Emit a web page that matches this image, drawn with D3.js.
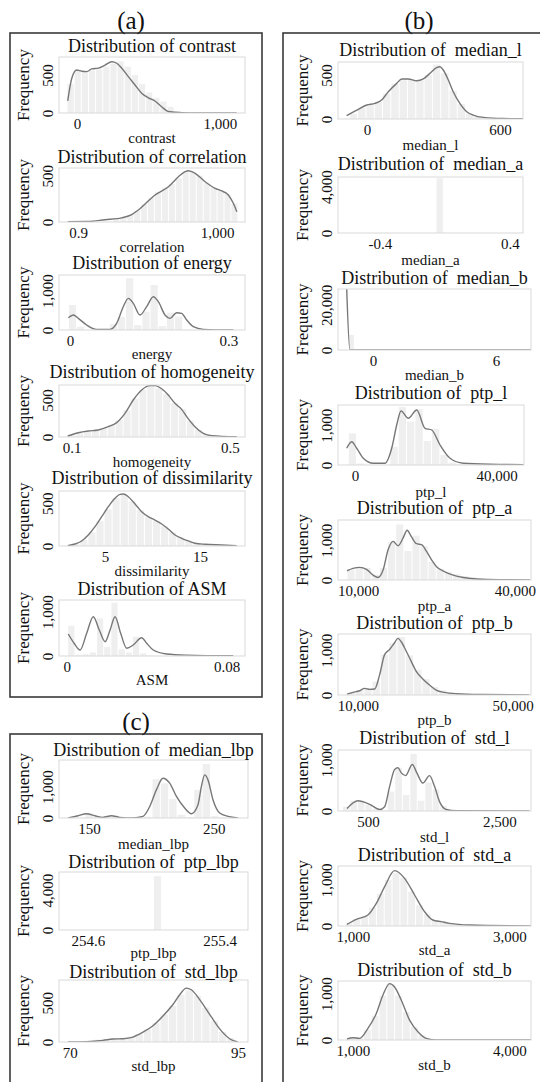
<!DOCTYPE html>
<meta charset="utf-8">
<title>Feature distributions</title>
<style>
  body { margin: 0; background: #fff; }
  svg text { font-family: "Liberation Serif", "Times New Roman", "DejaVu Serif", serif !important; fill: #111; }
</style>
<body>
<div id="chart"></div>
<script src="https://d3js.org/d3.v7.min.js"></script>
<script>

// ---- data ----
// each panel: axis ranges, ticks, histogram bins (start, width, counts) and the density curve

var contrast = {
  title: "Distribution of contrast", xlabel: "contrast",
  xDomain: [-126, 1175], yMax: 737,
  xTicks: [0, 1000], xTickLabels: ["0", "1,000"], yTicks: [0, 500],
  binStart: -70, binWidth: 50,
  counts: [380, 560, 540, 560, 575, 610, 650, 680, 610, 500, 380, 270, 200, 150, 80, 25, 10, 6, 4, 3, 2, 2, 1, 1],
  curve: [[-65,160],[-37,455],[-2,565],[33,550],[68,545],[103,580],[149,590],[196,630],[243,675],[278,655],[313,590],[359,478],[406,368],[452,260],[499,200],[545,158],[592,83],[638,20],[732,5],[850,2],[1000,1],[1117,0]]
};

var correlation = {
  title: "Distribution of correlation", xlabel: "correlation",
  xDomain: [0.8863, 1.0201], yMax: 583,
  xTicks: [0.9, 1.0], xTickLabels: ["0.9", "1,000"], yTicks: [0, 500],
  binStart: 0.925, binWidth: 0.005,
  counts: [40, 55, 75, 120, 190, 260, 320, 370, 410, 470, 540, 540, 500, 420, 370, 340, 300, 200],
  curve: [[0.8926,3],[0.9074,5],[0.9194,25],[0.9314,45],[0.9386,80],[0.9434,130],[0.9554,292],[0.965,381],[0.9722,489],[0.977,543],[0.9793,554],[0.9842,526],[0.9914,435],[0.9986,364],[1.0034,335],[1.0081,292],[1.0117,202],[1.0142,111]]
};

var energy = {
  title: "Distribution of energy", xlabel: "energy",
  xDomain: [-0.0208, 0.3316], yMax: 1400,
  xTicks: [0, 0.3], xTickLabels: ["0", "0.3"], yTicks: [0, 1000],
  binStart: -0.003, binWidth: 0.01547,
  counts: [636, 85, 0, 0, 0, 150, 330, 1315, 127, 466, 1145, 100, 440, 340, 10],
  curve: [[-0.003,313],[0.0063,382],[0.0158,297],[0.0316,127],[0.0505,17],[0.0758,17],[0.0884,170],[0.101,593],[0.1105,806],[0.12,679],[0.1326,382],[0.1453,593],[0.1579,848],[0.1674,721],[0.18,382],[0.1895,297],[0.2021,441],[0.2116,424],[0.2211,254],[0.2337,85],[0.2526,17],[0.3095,0]]
};

var homogeneity = {
  title: "Distribution of homogeneity", xlabel: "homogeneity",
  xDomain: [0.068, 0.538], yMax: 703,
  xTicks: [0.1, 0.5], xTickLabels: ["0.1", "0.5"], yTicks: [0, 500],
  binStart: 0.09, binWidth: 0.02,
  counts: [30, 60, 80, 90, 120, 160, 230, 360, 520, 640, 690, 660, 580, 460, 380, 220, 100, 40, 15, 5],
  curve: [[0.0899,14],[0.1167,58],[0.1419,81],[0.1672,95],[0.1925,139],[0.2137,194],[0.2347,320],[0.2556,500],[0.2769,635],[0.2978,694],[0.3105,694],[0.3274,653],[0.3441,568],[0.361,455],[0.3779,374],[0.3906,275],[0.4115,139],[0.4325,50],[0.4537,18],[0.5169,3]]
};

var dissimilarity = {
  title: "Distribution of dissimilarity", xlabel: "dissimilarity",
  xDomain: [0.158, 19.74], yMax: 644,
  xTicks: [5, 15], xTickLabels: ["5", "15"], yTicks: [0, 500],
  binStart: 1.5, binWidth: 0.85,
  counts: [25, 70, 160, 290, 430, 560, 600, 520, 420, 340, 290, 230, 160, 100, 60, 35, 20, 12, 6],
  curve: [[1.07,4],[1.84,23],[2.55,59],[3.24,129],[3.95,226],[4.65,343],[5.35,460],[6.05,558],[6.58,605],[6.93,609],[7.45,577],[8.16,492],[8.86,402],[9.56,343],[10.26,304],[10.97,258],[11.66,199],[12.37,129],[13.07,90],[13.77,59],[14.47,32],[15.53,20],[17.28,12],[18.86,4]]
};

var asm = {
  title: "Distribution of ASM", xlabel: "ASM",
  xDomain: [-0.00385, 0.0892], yMax: 1264,
  xTicks: [0, 0.08], xTickLabels: ["0", "0.08"], yTicks: [0, 1000],
  binStart: 0.0005, binWidth: 0.0036,
  counts: [683, 30, 40, 80, 850, 200, 1204, 150, 80, 436, 60, 15, 5],
  curve: [[0.0008,497],[0.0037,287],[0.0067,135],[0.01,512],[0.0133,887],[0.0163,587],[0.0192,323],[0.0217,587],[0.0242,887],[0.027,512],[0.03,174],[0.0333,248],[0.0375,413],[0.04,287],[0.0433,135],[0.05,45],[0.06,20],[0.0833,5]]
};

var medianL = {
  title: "Distribution of  median_l", xlabel: "median_l",
  xDomain: [-131, 704], yMax: 648,
  xTicks: [0, 600], xTickLabels: ["0", "600"], yTicks: [0, 500],
  binStart: -80, binWidth: 37.5,
  counts: [60, 130, 165, 190, 290, 400, 440, 450, 440, 500, 620, 520, 320, 170, 60, 25, 10, 5],
  curve: [[-92,38],[-46,102],[-1,159],[36,178],[66,216],[96,310],[134,405],[157,455],[186,455],[224,435],[254,455],[284,519],[314,583],[329,594],[344,557],[367,443],[389,310],[419,178],[450,83],[479,45],[525,18],[615,5],[705,3]]
};

var medianA = {
  title: "Distribution of  median_a", xlabel: "median_a",
  xDomain: [-0.658, 0.48], yMax: 4836,
  xTicks: [-0.4, 0.4], xTickLabels: ["-0.4", "0.4"], yTicks: [0, 4000],
  binStart: -0.055, binWidth: 0.045,
  counts: [4720],
  curve: []
};

var medianB = {
  title: "Distribution of  median_b", xlabel: "median_b",
  xDomain: [-1.70, 7.70], yMax: 27000,
  xTicks: [0, 6], xTickLabels: ["0", "6"], yTicks: [0, 20000],
  binStart: -1.19, binWidth: 0.29,
  counts: [6667],
  curve: [[-1.28,28000],[-1.12,0],[7.7,0]]
};

var ptpL = {
  title: "Distribution of  ptp_l", xlabel: "ptp_l",
  xDomain: [-4800, 47700], yMax: 1500,
  xTicks: [0, 40000], xTickLabels: ["0", "40,000"], yTicks: [0, 1000],
  binStart: -1900, binWidth: 2350,
  counts: [792, 40, 0, 0, 0, 458, 1450, 1083, 1392, 600, 900, 250, 60, 20, 10, 5],
  curve: [[-2343,418],[-932,583],[480,418],[2343,168],[5167,43],[8470,43],[10361,418],[11773,1000],[12987,1350],[15048,1168],[17420,1375],[19763,918],[21654,875],[23998,500],[26821,168],[30576,43],[38114,18],[47516,10]]
};

var ptpA = {
  title: "Distribution of  ptp_a", xlabel: "ptp_a",
  xDomain: [6170, 43064], yMax: 1500,
  xTicks: [10000, 40000], xTickLabels: ["10,000", "40,000"], yTicks: [0, 1000],
  binStart: 7900, binWidth: 1550,
  counts: [250, 320, 300, 130, 300, 950, 1389, 725, 1108, 850, 450, 280, 200, 150, 100, 70, 50, 30, 20, 15, 10, 8, 5, 3],
  curve: [[7894,231],[9043,290],[10326,316],[11609,265],[12872,121],[13830,62],[14787,248],[15745,755],[16702,966],[17660,856],[18617,1051],[19383,1245],[20226,1076],[21183,907],[22141,882],[23098,713],[24056,502],[25013,332],[26603,206],[28192,121],[30107,62],[33304,20],[37767,8],[42880,3]]
};

var ptpB = {
  title: "Distribution of  ptp_b", xlabel: "ptp_b",
  xDomain: [4839, 54748], yMax: 1356,
  xTicks: [10000, 50000], xTickLabels: ["10,000", "50,000"], yTicks: [0, 1000],
  binStart: 7200, binWidth: 2150,
  counts: [60, 110, 150, 300, 900, 1150, 1290, 880, 560, 350, 180, 100, 60, 30, 15, 10, 5, 3],
  curve: [[7161,20],[8710,57],[10439,94],[11729,147],[13019,124],[14310,132],[15600,447],[16890,898],[18181,1011],[19471,1161],[20323,1259],[21200,1184],[22490,973],[23781,748],[25071,523],[26774,358],[28503,222],[30232,110],[32374,57],[35394,28],[41406,10],[54310,3]]
};

var stdL = {
  title: "Distribution of  std_l", xlabel: "std_l",
  xDomain: [44, 2981], yMax: 1196,
  xTicks: [500, 2500], xTickLabels: ["500", "2,500"], yTicks: [0, 1000],
  binStart: 111, binWidth: 114,
  counts: [80, 200, 190, 120, 40, 20, 380, 850, 314, 1120, 202, 560, 420, 100, 20, 10, 5],
  curve: [[181,50],[348,200],[526,130],[678,30],[754,85],[830,483],[906,814],[956,847],[1007,747],[1073,694],[1174,913],[1244,747],[1335,549],[1437,694],[1513,483],[1589,184],[1691,30],[1843,5],[2956,0]]
};

var stdA = {
  title: "Distribution of  std_a", xlabel: "std_a",
  xDomain: [808.5, 3277], yMax: 1304,
  xTicks: [1000, 3000], xTickLabels: ["1,000", "3,000"], yTicks: [0, 1000],
  binStart: 900, binWidth: 100,
  counts: [60, 150, 220, 400, 700, 1000, 1150, 1050, 750, 450, 250, 130, 100, 60, 30, 20, 10, 5],
  curve: [[923,36],[1043,145],[1191,239],[1299,493],[1405,855],[1532,1203],[1660,1036],[1788,674],[1915,312],[2021,130],[2129,94],[2235,58],[2490,22],[3278,3]]
};

var stdB = {
  title: "Distribution of  std_b", xlabel: "std_b",
  xDomain: [713, 4415], yMax: 1270,
  xTicks: [1000, 4000], xTickLabels: ["1,000", "4,000"], yTicks: [0, 1000],
  binStart: 900, binWidth: 150,
  counts: [30, 40, 220, 520, 950, 1200, 950, 600, 280, 100, 30, 10, 5],
  curve: [[885,21],[1000,50],[1128,36],[1287,250],[1448,571],[1574,964],[1703,1214],[1799,1142],[1927,857],[2086,428],[2245,178],[2406,36],[2597,3],[4416,3]]
};

var medianLbp = {
  title: "Distribution of  median_lbp", xlabel: "median_lbp",
  xDomain: [125.9, 277.5], yMax: 1845,
  xTicks: [150, 250], xTickLabels: ["150", "250"], yTicks: [0, 1000],
  binStart: 146.9, binWidth: 6.7,
  counts: [158, 30, 60, 40, 10, 5, 10, 40, 1234, 1100, 601, 100, 30, 896, 1718, 60, 20],
  curve: [[133.2,5],[141.2,73],[147.9,136],[154.6,73],[161.2,21],[168,73],[174.6,21],[185.3,5],[193.3,52],[198.7,367],[204,896],[209.3,1266],[214.7,1108],[220.1,685],[226.7,316],[232.1,136],[237.4,421],[240.1,1000],[242.8,1371],[245.4,1213],[249.4,580],[254.8,158],[261.5,52],[269.5,5]]
};

var ptpLbp = {
  title: "Distribution of  ptp_lbp", xlabel: "ptp_lbp",
  xDomain: [254.424, 255.572], yMax: 5830,
  xTicks: [254.6, 255.4], xTickLabels: ["254.6", "255.4"], yTicks: [0, 4000],
  binStart: 254.997, binWidth: 0.05,
  counts: [5400],
  curve: []
};

var stdLbp = {
  title: "Distribution of  std_lbp", xlabel: "std_lbp",
  xDomain: [68.41, 96.49], yMax: 792,
  xTicks: [70, 95], xTickLabels: ["70", "95"], yTicks: [0, 500],
  binStart: 73.5, binWidth: 1.24,
  counts: [30, 40, 45, 50, 70, 100, 160, 240, 350, 460, 600, 660, 590, 440, 270, 130, 50],
  curve: [[69.75,0],[72.48,4],[74.95,21],[76.43,38],[77.92,42],[79.4,63],[80.89,125],[82.37,208],[83.86,333],[85.34,479],[86.34,604],[87.33,688],[88.07,667],[89.31,542],[90.79,354],[92.28,167],[93.76,42],[95,0]]
};

// ---- layout: plot box [left, right, top, bottom], title gap, x-label gap ----
var layout = [
  [contrast,      59, 245,  57, 113, 11, 25],
  [correlation,   59, 245, 168, 222, 11, 25],
  [energy,        59, 245, 275, 330, 12, 24],
  [homogeneity,   59, 245, 385, 437, 13, 25],
  [dissimilarity, 59, 245, 491, 546, 13, 25],
  [asm,           59, 245, 600, 656, 11, 24],
  [medianL,      338, 523,  62, 119, 12, 26],
  [medianA,      338, 523, 177, 233, 13, 27],
  [medianB,      338, 531, 289, 350, 11, 25],
  [ptpL,         338, 524, 405, 465, 12, 27],
  [ptpA,         338, 531, 520, 580, 12, 26],
  [ptpB,         338, 531, 634, 695, 11, 25],
  [stdL,         338, 531, 750, 811, 12, 26],
  [stdA,         338, 531, 866, 926, 11, 24],
  [stdB,         338, 531, 981, 1040, 11, 25],
  [medianLbp,     59, 248, 760, 818, 10, 26],
  [ptpLbp,        59, 248, 872, 930, 10, 23],
  [stdLbp,        59, 248, 980, 1042, 8, 24]
];

var width = 540, height = 1082;

var svg = d3.select("#chart")
  .append("svg")
    .attr("width", width)
    .attr("height", height);

// group frames and their letters
var groups = [
  {label: "(a)", x: 10,  y: 33,  w: 252, h: 664, lx: 131, ly: 20},
  {label: "(b)", x: 283, y: 33,  w: 280, h: 1080, lx: 419, ly: 20},
  {label: "(c)", x: 10,  y: 734, w: 252, h: 400, lx: 136, ly: 721}
];

groups.forEach(function(gr) {
  svg.append("rect")
    .attr("x", gr.x).attr("y", gr.y)
    .attr("width", gr.w).attr("height", gr.h)
    .attr("fill", "none")
    .attr("stroke", "#3a3a3a")
    .attr("stroke-width", 1.6);
  svg.append("text")
    .attr("x", gr.lx).attr("y", gr.ly)
    .attr("text-anchor", "middle")
    .attr("dominant-baseline", "central")
    .style("font-size", "25px")
    .text(gr.label);
});

var line = d3.line().curve(d3.curveMonotoneX);

layout.forEach(function(row, idx) {
  var p = row[0], x0 = row[1], x1 = row[2], y0 = row[3], y1 = row[4];
  var titleGap = row[5], labelGap = row[6];

  var x = d3.scaleLinear().domain(p.xDomain).range([x0, x1]);
  var y = d3.scaleLinear().domain([0, p.yMax]).range([y1, y0]);

  var g = svg.append("g");

  var clipId = "clip" + idx;
  svg.append("clipPath").attr("id", clipId)
    .append("rect")
      .attr("x", x0).attr("y", y0)
      .attr("width", x1 - x0).attr("height", y1 - y0);

  var plot = g.append("g").attr("clip-path", "url(#" + clipId + ")");

  // histogram bars
  var bins = p.counts.map(function(c, i) {
    return {a: p.binStart + i * p.binWidth, b: p.binStart + (i + 1) * p.binWidth, c: c};
  });
  plot.selectAll("rect")
    .data(bins)
    .join("rect")
      .attr("x", function(d) { return x(d.a) + 0.5; })
      .attr("width", function(d) { return Math.max(0, x(d.b) - x(d.a) - 1); })
      .attr("y", function(d) { return y(d.c); })
      .attr("height", function(d) { return y(0) - y(d.c); })
      .style("fill", "#efefef");

  // density curve
  if (p.curve.length) {
    line.x(function(d) { return x(d[0]); }).y(function(d) { return y(d[1]); });
    plot.append("path")
      .datum(p.curve)
      .attr("d", line)
      .attr("fill", "none")
      .attr("stroke", "#777")
      .attr("stroke-width", 1.4);
  }

  // plot frame
  g.append("rect")
    .attr("x", x0).attr("y", y0)
    .attr("width", x1 - x0).attr("height", y1 - y0)
    .attr("fill", "none")
    .attr("stroke", "#d9d9d9");

  // x axis
  var xa = g.append("g")
    .attr("transform", "translate(0," + y1 + ")")
    .call(d3.axisBottom(x)
      .tickValues(p.xTicks)
      .tickFormat(function(d, i) { return p.xTickLabels[i]; })
      .tickSize(0)
      .tickPadding(5));
  xa.attr("font-family", null);
  xa.select(".domain").remove();
  xa.selectAll("text")
    .attr("fill", "#111")
    .style("font-size", "15px");

  // y axis with rotated labels
  var ya = g.append("g")
    .attr("transform", "translate(" + x0 + ",0)")
    .call(d3.axisLeft(y)
      .tickValues(p.yTicks)
      .tickFormat(d3.format(","))
      .tickSize(0));
  ya.attr("font-family", null);
  ya.select(".domain").remove();
  ya.selectAll("text")
    .attr("x", null)
    .attr("dy", "0.35em")
    .attr("text-anchor", "middle")
    .attr("transform", "translate(-11,0) rotate(-90)")
    .attr("fill", "#111")
    .style("font-size", "15px");

  // titles and labels
  g.append("text")
    .attr("x", (x0 + x1) / 2).attr("y", y0 - titleGap)
    .attr("text-anchor", "middle")
    .attr("dominant-baseline", "central")
    .style("white-space", "pre")
    .style("font-size", "18px")
    .text(p.title);

  g.append("text")
    .attr("x", (x0 + x1) / 2).attr("y", y1 + labelGap)
    .attr("text-anchor", "middle")
    .attr("dominant-baseline", "central")
    .style("font-size", "15px")
    .text(p.xlabel);

  g.append("text")
    .attr("transform", "translate(" + (x0 - 36) + "," + ((y0 + y1) / 2) + ") rotate(-90)")
    .attr("text-anchor", "middle")
    .attr("dominant-baseline", "central")
    .style("font-size", "17px")
    .text("Frequency");
});

</script>
</body>
